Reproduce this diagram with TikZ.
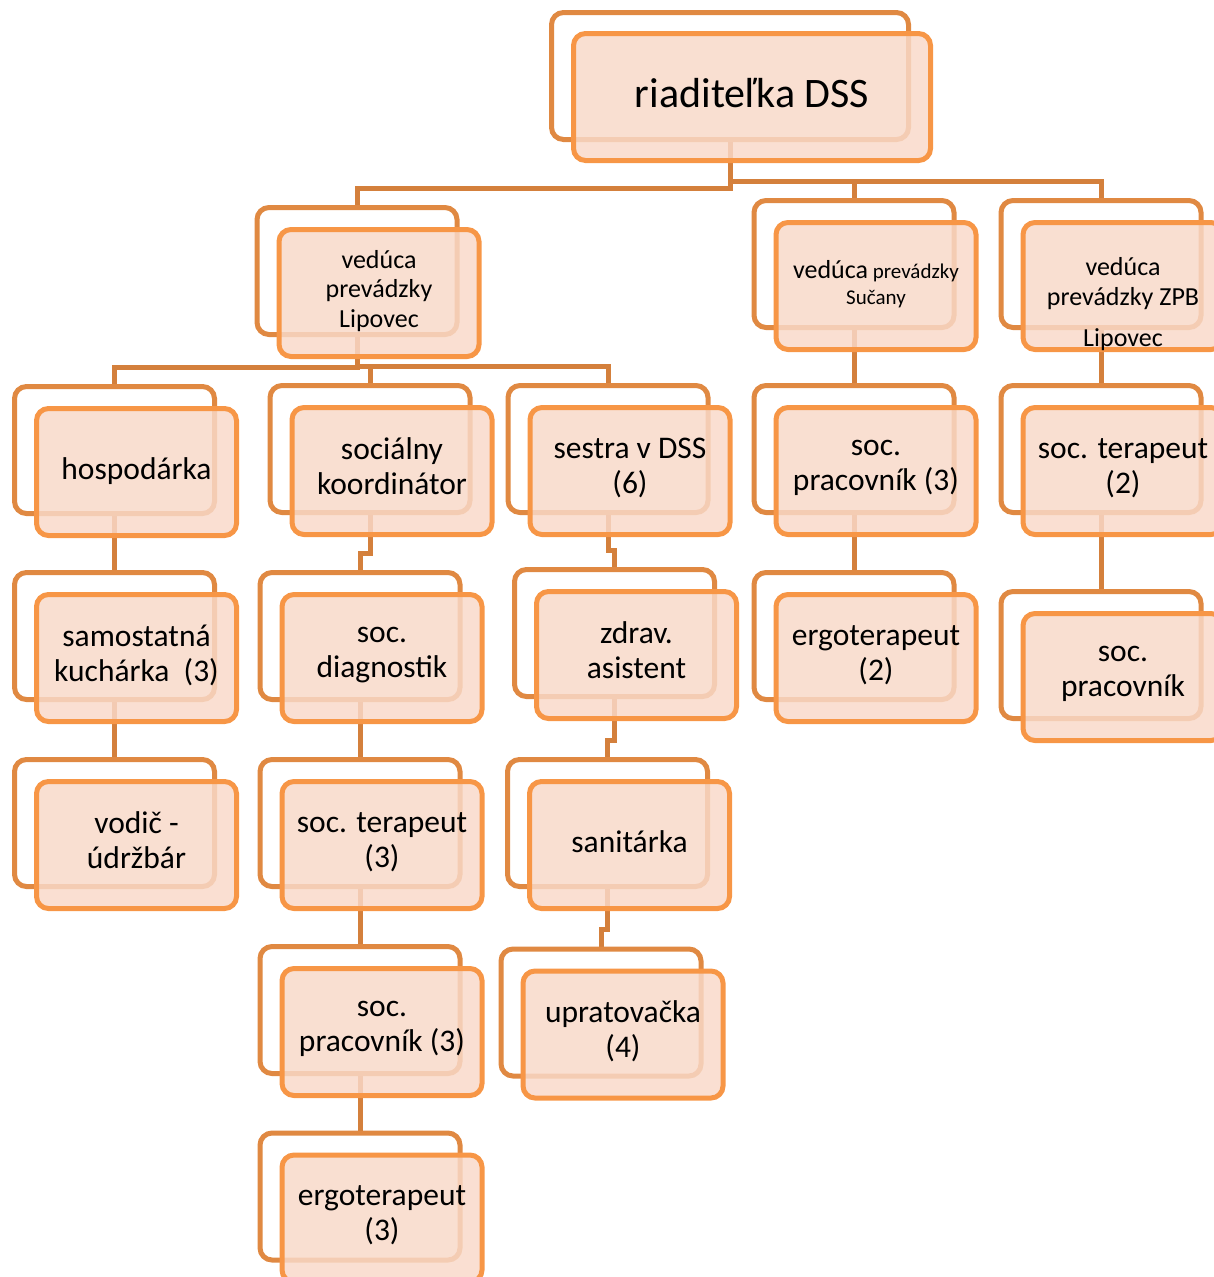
\documentclass[tikz,border=0pt]{standalone}
\usepackage{fontspec}
\setmainfont{Carlito}
\pgfdeclarelayer{background}
\pgfsetlayers{background,main}

\definecolor{conn}{RGB}{212,128,60}
\definecolor{backline}{RGB}{224,137,66}
\definecolor{frontline}{RGB}{247,150,70}
\definecolor{frontfill}{RGB}{249,217,201}

\tikzset{
	backbox/.style={draw=backline, fill=white, line width=5pt, rounded corners=12pt,
		minimum width=200pt, minimum height=127pt},
	frontbox/.style={draw=frontline, fill=frontfill, fill opacity=0.84, text opacity=1,
		line width=5pt, rounded corners=12pt, minimum width=200pt, minimum height=127pt,
		align=center, inner sep=1pt, font=\fontsize{31.5}{35}\selectfont,
		execute at begin node=\strut, execute at end node=\strut},
	widebox/.style={minimum width=357pt},
	orgline/.style={draw=conn, line width=5pt}
}

\begin{document}
\begin{tikzpicture}[x=1pt,y=-1pt]
	\useasboundingbox (0,0) rectangle (1214,1277);

	% riaditelka
	\node[backbox,widebox] (dss) at (730,76) {};
	\node[frontbox,widebox,font=\fontsize{42}{50}\selectfont] (dssF) at ([shift={(22,21)}]dss.center) {riaditeľka DSS};

	% vedúce prevádzok
	\node[backbox] (lip) at (357,271) {};
	\node[frontbox,font=\fontsize{26}{29.5}\selectfont] (lipF) at ([shift={(22,22)}]lip.center) {vedúca\\prevádzky\\Lipovec};
	\node[backbox] (suc) at (854,264) {};
	\node[frontbox,font=\fontsize{21}{26}\selectfont] (sucF) at ([shift={(22,22)}]suc.center) {{\fontsize{26}{26}\selectfont vedúca} prevádzky\\Sučany};
	\node[backbox] (zpb) at (1101,264) {};
	\node[frontbox,font=\fontsize{26}{30}\selectfont] (zpbF) at ([shift={(22,22)}]zpb.center) {vedúca\\prevádzky ZPB};
	\node[font=\fontsize{26}{30}\selectfont] (zpbL) at ([yshift=-54pt]zpbF.center) {Lipovec};

	% Lipovec
	\node[backbox] (hosp) at (114.5,450) {};
	\node[frontbox] (hospF) at ([shift={(22,22)}]hosp.center) {hospodárka};
	\node[backbox] (kuch) at (114.5,636) {};
	\node[frontbox] (kuchF) at ([shift={(22,22)}]kuch.center) {samostatná\\kuchárka~~(3)};
	\node[backbox] (vod) at (114.5,823) {};
	\node[frontbox] (vodF) at ([shift={(22,22)}]vod.center) {vodič -\\údržbár};

	\node[backbox] (koord) at (370,449) {};
	\node[frontbox] (koordF) at ([shift={(22,22)}]koord.center) {sociálny\\koordinátor};
	\node[backbox] (diag) at (360,636) {};
	\node[frontbox] (diagF) at ([shift={(22,22)}]diag.center) {soc.\\diagnostik};
	\node[backbox] (ter) at (360,823) {};
	\node[frontbox] (terF) at ([shift={(22,22)}]ter.center) {soc. terapeut\\(3)};
	\node[backbox] (prac) at (360,1010) {};
	\node[frontbox] (pracF) at ([shift={(22,22)}]prac.center) {soc.\\pracovník (3)};
	\node[backbox] (ergo) at (360,1196.5) {};
	\node[frontbox] (ergoF) at ([shift={(22,22)}]ergo.center) {ergoterapeut\\(3)};

	\node[backbox] (sest) at (608,449) {};
	\node[frontbox] (sestF) at ([shift={(22,22)}]sest.center) {sestra v DSS\\(6)};
	\node[backbox] (zdr) at (614.5,633) {};
	\node[frontbox] (zdrF) at ([shift={(22,22)}]zdr.center) {zdrav.\\asistent};
	\node[backbox] (san) at (607.5,823) {};
	\node[frontbox] (sanF) at ([shift={(22,22)}]san.center) {sanitárka};
	\node[backbox] (upr) at (601,1012.5) {};
	\node[frontbox] (uprF) at ([shift={(22,22)}]upr.center) {upratovačka\\(4)};

	% Sučany
	\node[backbox] (sprac) at (854,449) {};
	\node[frontbox] (spracF) at ([shift={(22,22)}]sprac.center) {soc.\\pracovník (3)};
	\node[backbox] (sergo) at (854,636) {};
	\node[frontbox] (sergoF) at ([shift={(22,22)}]sergo.center) {ergoterapeut\\(2)};

	% ZPB
	\node[backbox] (zter) at (1101,449) {};
	\node[frontbox] (zterF) at ([shift={(22,22)}]zter.center) {soc. terapeut\\(2)};
	\node[backbox] (zprac) at (1101,655) {};
	\node[frontbox] (zpracF) at ([shift={(22,22)}]zprac.center) {soc.\\pracovník};

\begin{pgfonlayer}{background}
	\draw[orgline] (dss.south) |- ([yshift=17pt]lip.north) -- (lip.north);
	\draw[orgline] (dss.south) |- ([yshift=17pt]suc.north) -- (suc.north);
	\draw[orgline] (dss.south) |- ([yshift=17pt]zpb.north) -- (zpb.north);
	\draw[orgline] (lip.south) |- ([yshift=17pt]hosp.north) -- (hosp.north);
	\draw[orgline] (lip.south) |- ([yshift=17pt]koord.north) -- (koord.north);
	\draw[orgline] (lip.south) |- ([yshift=17pt]sest.north) -- (sest.north);
	\draw[orgline] (hosp.south) -- (kuch.north);
	\draw[orgline] (kuch.south) -- (vod.north);
	\draw[orgline] (koord.south) |- ([yshift=17pt]diag.north) -- (diag.north);
	\draw[orgline] (diag.south) -- (ter.north);
	\draw[orgline] (ter.south) -- (prac.north);
	\draw[orgline] (prac.south) -- (ergo.north);
	\draw[orgline] (sest.south) |- ([yshift=17pt]zdr.north) -- (zdr.north);
	\draw[orgline] (zdr.south) |- ([yshift=17pt]san.north) -- (san.north);
	\draw[orgline] (san.south) |- ([yshift=17pt]upr.north) -- (upr.north);
	\draw[orgline] (suc.south) -- (sprac.north);
	\draw[orgline] (sprac.south) -- (sergo.north);
	\draw[orgline] (zpb.south) -- (zter.north);
	\draw[orgline] (zter.south) -- (zprac.north);
\end{pgfonlayer}

\end{tikzpicture}
\end{document}
